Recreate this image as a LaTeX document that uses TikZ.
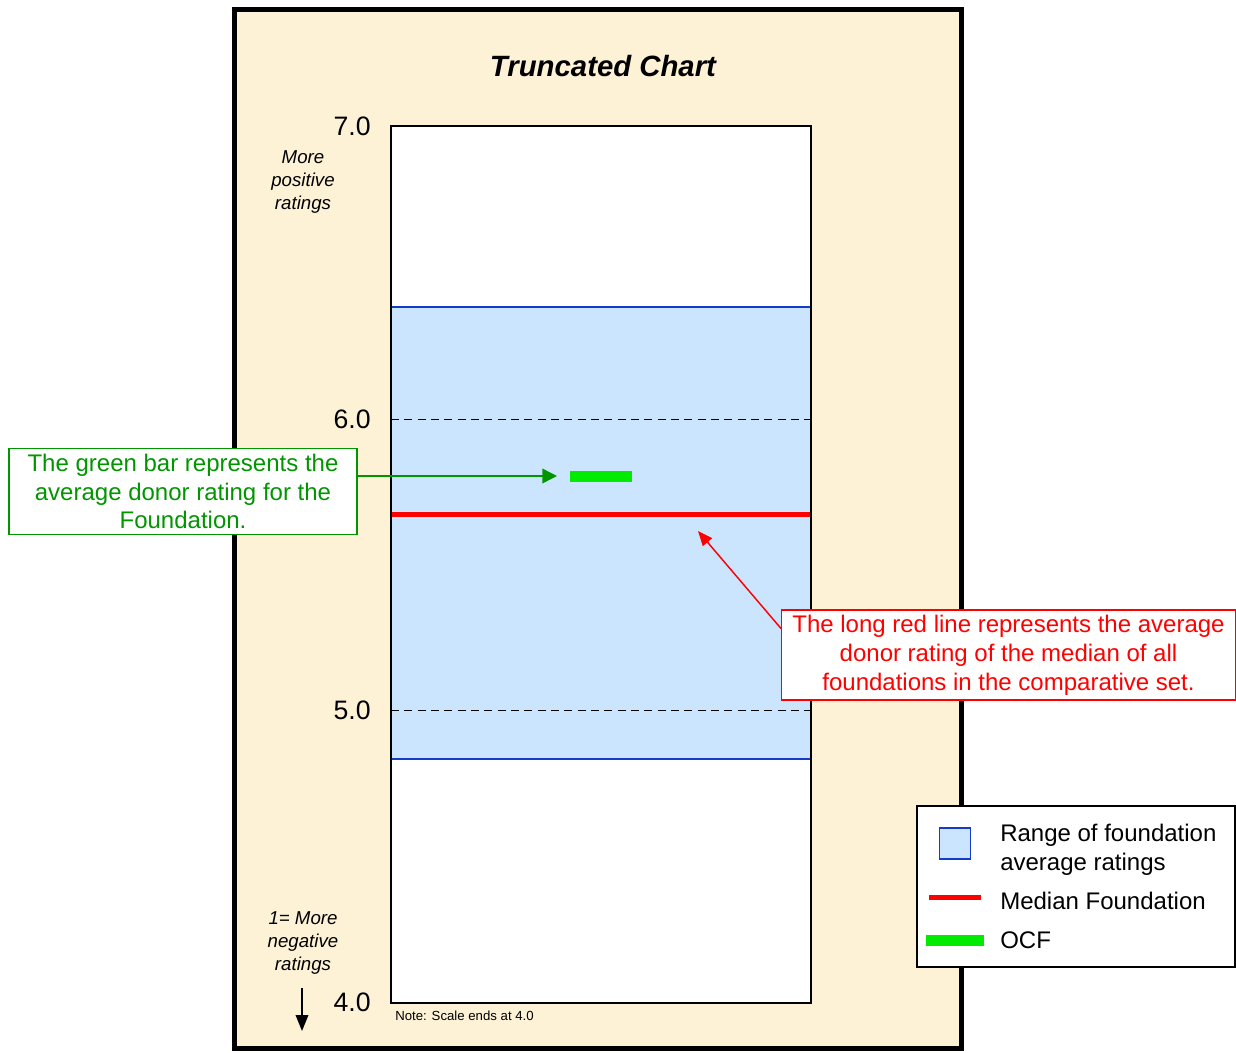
\documentclass[tikz,border=0pt]{standalone}
\usepackage{fontspec}
\setmainfont{Liberation Sans}
\usetikzlibrary{arrows.meta,calc}
\definecolor{cream}{RGB}{253,242,214}
\definecolor{bandfill}{RGB}{204,229,255}
\definecolor{bandline}{RGB}{20,60,200}
\definecolor{darkgreen}{RGB}{0,150,0}
\definecolor{brightgreen}{RGB}{0,235,0}
\tikzset{
  frame/.style={draw=black,line width=3.75pt,fill=cream},
  tick/.style={anchor=east,inner sep=0pt,font=\fontsize{20}{24}\selectfont},
  sidenote/.style={align=center,inner sep=0pt,font=\fontsize{14}{16.9}\selectfont\itshape},
  callout/.style={draw,fill=white,align=center,inner sep=0pt,line width=0.8pt,font=\fontsize{18}{21.6}\selectfont},
  legtext/.style={anchor=west,align=left,inner sep=0pt,font=\fontsize{18}{21.6}\selectfont},
  grid/.style={dashed,dash pattern=on 6pt off 4pt,line width=0.6pt,black},
}
\begin{document}
\begin{tikzpicture}[x=0.75pt,y=-0.75pt]
\useasboundingbox (0,0) rectangle (1236,1053);
\fill[white] (0,0) rectangle (1236,1053);
% outer frame
\draw[frame] (234.5,9.5) rectangle (961.5,1048.5);
% title
\node[font=\fontsize{22}{26}\selectfont\bfseries\itshape] (title) at (603,66) {Truncated Chart};
% plot area
\fill[white] (391,126) rectangle (811,1003);
\fill[bandfill] (391,307) rectangle (811,759);
\draw[bandline,line width=1.5pt] (391,307) -- (811,307);
\draw[bandline,line width=1.5pt] (391,759) -- (811,759);
\draw[grid] (391,419) -- (811,419);
\draw[grid] (391,710.5) -- (811,710.5);
\draw[red,line width=3.75pt] (391,514.5) -- (811,514.5);
\draw[brightgreen,line width=8.25pt] (570,476) -- (632,476);
\draw[black,line width=1.1pt] (391,126) rectangle (811,1003);
% ticks
\node[tick] (t7) at (371,126) {7.0};
\node[tick] (t6) at (371,419) {6.0};
\node[tick] (t5) at (371,710) {5.0};
\node[tick] (t4) at (371,1002) {4.0};
% side notes
\node[sidenote] (pos) at (303,182) {More\\positive\\ratings};
\node[sidenote] (neg) at (303,943) {1= More\\negative\\ratings};
\coordinate (da1) at (302,988);
\coordinate (da2) at (302,1031);
\draw[line width=1.1pt,-{Triangle[length=12pt,width=9.5pt]}] (da1) -- (da2);
\node[anchor=west,inner sep=0pt,font=\fontsize{9.9}{12}\selectfont] (note) at (395,1016) {Note: Scale ends at 4.0};
% green callout
\node[callout,draw=darkgreen,text=darkgreen,minimum width=261pt,minimum height=64.5pt] (gbox) at (183,491.5)
  {The green bar represents the\\average donor rating for the\\Foundation.};
\coordinate (gtip) at (557,476);
\draw[darkgreen,line width=1.1pt,-{Triangle[length=11pt,width=11pt]}] (gtip -| gbox.east) -- (gtip);
% red callout
\node[callout,draw=red,text=red,minimum width=340.5pt,minimum height=67.5pt] (rbox) at (1008.5,655)
  {The long red line represents the average\\donor rating of the median of all\\foundations in the comparative set.};
\coordinate (rtip) at (698,531);
\draw[red,line width=1.1pt,-{Triangle[length=11pt,width=9pt]}] ($(rbox.north west)+(0,19)$) -- (rtip);
% legend
\node[draw=black,fill=white,line width=1.1pt,minimum width=238.5pt,minimum height=120.75pt,inner sep=0pt] (legend) at (1076,886.5) {};
\node[draw=bandline,fill=bandfill,line width=1.1pt,minimum width=23pt,minimum height=23pt,inner sep=0pt] (legband) at (955,843.5) {};
\coordinate (lr1) at (929,897);
\coordinate (lr2) at (981,897);
\draw[red,line width=3.75pt] (lr1) -- (lr2);
\coordinate (lg1) at (926,940);
\coordinate (lg2) at (984,940);
\draw[brightgreen,line width=8.25pt] (lg1) -- (lg2);
\node[legtext] (l1) at (1000,850) {Range of foundation\\average ratings};
\node[legtext] (l2) at (1000,901) {Median Foundation};
\node[legtext] (l3) at (1000,940) {OCF};
\end{tikzpicture}
\end{document}
